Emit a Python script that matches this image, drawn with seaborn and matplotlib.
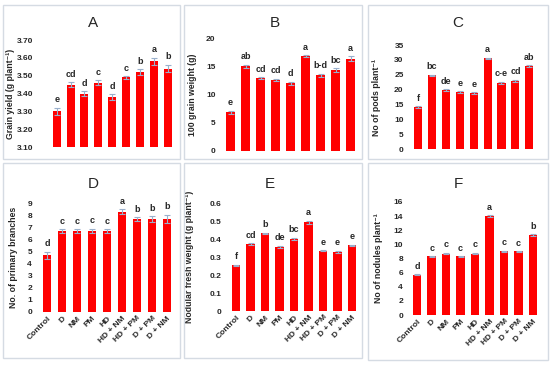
import numpy as np
import pandas as pd
import matplotlib
matplotlib.use("Agg")
import matplotlib.pyplot as plt
import seaborn as sns
from matplotlib.patches import Rectangle

# treatments (same for all panels)
treatments = ["Control", "D", "NM", "PM", "HD", "HD + NM", "HD + PM", "D + PM", "D + NM"]

# A: grain yield
grain_yield = [3.30, 3.45, 3.40, 3.46, 3.38, 3.49, 3.52, 3.58, 3.54]
grain_yield_se = [0.02, 0.012, 0.012, 0.015, 0.015, 0.008, 0.015, 0.02, 0.02]
grain_yield_let = ["e", "cd", "d", "c", "d", "c", "b", "a", "b"]

# B: 100 grain weight
grain_wt = [6.8, 15.0, 12.9, 12.6, 12.0, 16.8, 13.4, 14.3, 16.4]
grain_wt_se = [0.3, 0.3, 0.15, 0.2, 0.25, 0.2, 0.3, 0.35, 0.4]
grain_wt_let = ["e", "ab", "cd", "cd", "d", "a", "b-d", "bc", "a"]

# C: pods
pods = [14.1, 24.8, 19.8, 19.1, 18.8, 30.5, 22.3, 23.0, 27.9]
pods_se = [0.3] * 9
pods_let = ["f", "bc", "de", "e", "e", "a", "c-e", "cd", "ab"]

# D: primary branches
branches = [4.7, 6.7, 6.7, 6.7, 6.7, 8.3, 7.7, 7.7, 7.7]
branches_se = [0.3, 0.15, 0.15, 0.2, 0.15, 0.2, 0.15, 0.25, 0.35]
branches_let = ["d", "c", "c", "c", "c", "a", "b", "b", "b"]

# E: nodular fresh weight
nod_wt = [0.255, 0.372, 0.432, 0.358, 0.400, 0.495, 0.335, 0.330, 0.365]
nod_wt_se = [0.003, 0.005, 0.005, 0.005, 0.007, 0.008, 0.003, 0.006, 0.004]
nod_wt_let = ["f", "cd", "b", "de", "bc", "a", "e", "e", "e"]

# F: nodules
nodules = [5.7, 8.3, 8.7, 8.3, 8.7, 14.0, 9.0, 9.0, 11.3]
nodules_se = [0.05, 0.05, 0.1, 0.05, 0.1, 0.1, 0.1, 0.05, 0.1]
nodules_let = ["d", "c", "c", "c", "c", "a", "c", "c", "b"]

sns.set_style("white")
plt.rcParams['font.family'] = ['Liberation Sans Narrow', 'Liberation Sans', 'DejaVu Sans']

W, H = 550, 365
fig = plt.figure(figsize=(5.5, 3.65), dpi=100)

# panel frames (pixels: x0, y0, x1, y1)
frames = [(3, 5, 180, 159), (184, 5, 362, 159), (368, 5, 548, 159),
          (3, 163, 180, 358), (184, 163, 362, 358), (368, 163, 548, 360)]
for x0, y0, x1, y1 in frames:
    fig.patches.append(Rectangle((x0 / W, 1 - y1 / H), (x1 - x0) / W, (y1 - y0) / H,
                                 transform=fig.transFigure, fill=False,
                                 edgecolor="#d5dbe3", linewidth=1.0))

panels = [
    # title, values, se, letters, ylabel, ylim, ticks, fmt, layout(cx0, cx8, ybot, ytop, pad, ylab_x, title_xy)
    ("A", grain_yield, grain_yield_se, grain_yield_let, "Grain yield (g plant⁻¹)",
     (3.10, 3.70), np.arange(3.10, 3.71, 0.10), "{:.2f}", (56.7, 167.7, 147, 40, 15, 15, (93, 23))),
    ("B", grain_wt, grain_wt_se, grain_wt_let, "100 grain weight (g)",
     (0, 20), np.arange(0, 21, 5), "{:.0f}", (230.5, 350.7, 150.7, 38.3, 6, 197, (275, 23))),
    ("C", pods, pods_se, pods_let, "No of pods plant⁻¹",
     (0, 35), np.arange(0, 36, 5), "{:.0f}", (418, 529.3, 149.3, 45, 6, 381, (458, 23))),
    ("D", branches, branches_se, branches_let, "No. of primary branches",
     (0, 9), np.arange(0, 10, 1), "{:.0f}", (47, 167, 312, 203.3, 6, 18, (93, 184))),
    ("E", nod_wt, nod_wt_se, nod_wt_let, "Nodular fresh weight (g plant⁻¹)",
     (0, 0.6), np.arange(0, 0.61, 0.1), "{:g}", (236.2, 352, 311, 203.3, 6, 194, (270, 184))),
    ("F", nodules, nodules_se, nodules_let, "No of nodules plant⁻¹",
     (0, 16), np.arange(0, 17, 2), "{:.0f}", (417.2, 533, 315, 202, 5.5, 383, (458, 184))),
]

for i, (title, vals, se, lets, ylab, ylim, ticks, fmt, lay) in enumerate(panels):
    cx0, cx8, yb, yt, pad, ylx, (tx, ty) = lay
    p = (cx8 - cx0) / 8
    left = cx0 - 0.6 * p
    ax = fig.add_axes([left / W, 1 - yb / H, 9.2 * p / W, (yb - yt) / H])
    df = pd.DataFrame({"treatment": treatments, "value": vals})
    sns.barplot(data=df, x="treatment", y="value", color="#ff0000", saturation=1,
                width=0.58, ax=ax, errorbar=None, linewidth=0)
    ax.errorbar(np.arange(len(vals)), vals, yerr=se, fmt="none", ecolor="#9ab0cc",
                elinewidth=0.8, capsize=2, capthick=0.8)
    for j, (v, e, l) in enumerate(zip(vals, se, lets)):
        ax.annotate(l, (j, v + e), xytext=(0, 2.5), textcoords="offset points",
                    ha="center", va="bottom", fontsize=6.5, fontweight="bold")
    ax.set_xlim(-0.6, 8.6)
    ax.set_ylim(*ylim)
    ax.set_yticks(ticks)
    ax.set_yticklabels([fmt.format(t) for t in ticks], fontsize=6, fontweight="bold")
    ax.tick_params(axis="y", length=0, pad=pad * 0.72)
    ax.tick_params(axis="x", length=0)
    if i < 3:
        ax.set_xticklabels([])
    else:
        ax.set_xticklabels(treatments, rotation=45, ha="right", rotation_mode="anchor",
                           fontsize=6, fontweight="bold")
        ax.tick_params(axis="x", pad=2)
    ax.set_xlabel("")
    ax.set_ylabel(ylab, fontsize=6.3, fontweight="bold")
    ax.yaxis.set_label_coords((ylx - left) / (9.2 * p), 0.5)
    for s in ax.spines.values():
        s.set_visible(False)
    fig.text(tx / W, 1 - ty / H, title, fontsize=11, ha="center", va="center")

fig.savefig("out.png", dpi=100)
